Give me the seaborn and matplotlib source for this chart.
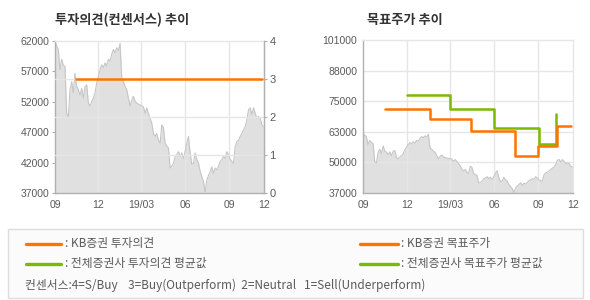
import numpy as np
import pandas as pd
import matplotlib
matplotlib.use('Agg')
import matplotlib.pyplot as plt
import seaborn as sns
from matplotlib.lines import Line2D
from matplotlib.patches import Rectangle

# ---------------- data ----------------
price = [62000, 61200, 60600, 57300, 59000, 58000, 57800, 50100, 49500, 54000,
         55300, 53500, 56700, 54500, 54000, 53100, 54200, 52600, 54500, 54800,
         51800, 51300, 52100, 52600, 53500, 55100, 56200, 57300, 58100, 57600,
         58400, 57900, 59000, 58700, 59800, 60600, 60100, 60900, 60400, 61600,
         55900, 55300, 54500, 54000, 52600, 51300, 52300, 52900, 52100, 51800,
         51600, 51500, 51300, 51200, 50100, 51000, 50100, 49300, 48500, 46800,
         46300, 46800, 45700, 45200, 48200, 47700, 45200, 44700, 44400, 41100,
         41400, 41900, 43000, 43300, 43800, 43000, 43600, 42700, 43800, 45200,
         46300, 43600, 41700, 41900, 43600, 42500, 41900, 40600, 39700, 38900,
         37200, 39100, 39900, 40500, 41300, 40200, 41100, 40800, 41400, 42200,
         42500, 43000, 42700, 43800, 43300, 42500, 42200, 41900, 44600, 45500,
         45700, 46300, 46800, 47400, 47900, 49000, 50700, 51000, 49900, 51000,
         50100, 49300, 49600, 49300, 48200, 47900]
price_start = '2018-09-01'
price_end = '2019-11-12'
axis_end = '2019-11-13'

opinion_dates = ['2018-10-15', '2019-11-08']
opinion_kb = [3, 3]

kb_target_dates = ['2018-10-16', '2019-01-18', '2019-04-14', '2019-07-16',
                   '2019-08-31', '2019-10-11', '2019-11-08']
kb_target = [72000, 68000, 63000, 52500, 56500, 65000, 65000]

avg_target_dates = ['2018-12-01', '2019-03-02', '2019-06-01', '2019-09-03', '2019-10-08']
avg_target = [78000, 72000, 64000, 57500, 70000]

x_tick_dates = ['2018-09-01', '2018-12-01', '2019-03-01', '2019-06-01', '2019-09-01', axis_end]
x_tick_labels = ['09', '12', '19/03', '06', '09', '12']
left_yticks = [37000, 42000, 47000, 52000, 57000, 62000]
opinion_ticks = [0, 1, 2, 3, 4]
right_ytick_labels = ['37000', '50000', '63000', '75000', '88000', '101000']

title_left = '투자의견(컨센서스) 추이'
title_right = '목표주가 추이'
legend_items = [': KB증권 투자의견', ': 전체증권사 투자의견 평균값',
                ': KB증권 목표주가', ': 전체증권사 목표주가 평균값']
consensus_text = '컨센서스:4=S/Buy    3=Buy(Outperform)  2=Neutral   1=Sell(Underperform)'

ORANGE = '#ff7300'
GREEN = '#7cb900'
FILL = '#e0e0e0'
GRID = '#e6e6e6'
SPINE = '#b0b0b0'
TXT = '#5a5a5a'

# ---------------- style ----------------
sns.set_style('white')
plt.rcParams['font.family'] = ['Liberation Sans', 'Noto Sans CJK KR', 'DejaVu Sans']
KFONT = ['Noto Sans CJK KR', 'DejaVu Sans']

W, H = 590, 300
fig = plt.figure(figsize=(W / 100, H / 100), dpi=100)

def fx(x):
    return x / W

def fy(y):
    return 1 - y / H

ax1 = fig.add_axes([fx(55), fy(193), 209 / W, 152 / H])
ax3 = fig.add_axes([fx(363), fy(193), 210 / W, 153 / H])

df = pd.DataFrame({'date': pd.date_range(price_start, price_end, periods=len(price)),
                   'price': price})
xt = [pd.Timestamp(d) for d in x_tick_dates]

for ax, (y0, y1) in ((ax1, (37000, 62000)), (ax3, (37000, 101000))):
    ax.fill_between(df['date'], df['price'], y0, color=FILL, lw=0, zorder=1)
    sns.lineplot(data=df, x='date', y='price', ax=ax, color='#c6c6c6', lw=0.8, zorder=2)
    ax.set_xlim(pd.Timestamp(price_start), pd.Timestamp(axis_end))
    ax.set_ylim(y0, y1)
    ax.set_xticks(xt)
    ax.set_xticklabels(x_tick_labels)
    for d in xt[1:-1]:
        ax.axvline(d, color=GRID, lw=1, zorder=1.5)
    ax.tick_params(axis='both', length=2, width=0.8, color=SPINE, labelsize=7.5,
                   labelcolor=TXT, pad=2)
    ax.tick_params(axis='x', pad=3)
    for s in ('left', 'bottom'):
        ax.spines[s].set_color(SPINE)
        ax.spines[s].set_linewidth(1)
    for s in ('top', 'right'):
        ax.spines[s].set_color(GRID)
        ax.spines[s].set_linewidth(1)

ax1.set_yticks(left_yticks)
ax1.set_yticklabels([str(v) for v in left_yticks])

# twin axis for opinion
ax2 = ax1.twinx()
ax2.set_ylim(0, 4)
ax2.set_yticks(opinion_ticks)
ax2.set_yticklabels([str(v) for v in opinion_ticks])
for v in opinion_ticks[1:-1]:
    ax2.axhline(v, color=GRID, lw=1, zorder=1)
sns.lineplot(x=pd.to_datetime(opinion_dates), y=opinion_kb, ax=ax2, color=ORANGE,
             lw=1.8, zorder=3)
ax2.set_xlim(pd.Timestamp(price_start), pd.Timestamp(axis_end))
ax2.tick_params(axis='y', length=2, width=0.8, color=SPINE, labelsize=8,
                labelcolor=TXT, pad=2)
for s in ('left', 'top', 'bottom'):
    ax2.spines[s].set_visible(False)
ax2.spines['right'].set_color(SPINE)
ax2.spines['right'].set_linewidth(1)

# right chart
rt = np.linspace(37000, 101000, 6)
ax3.set_yticks(rt)
ax3.set_yticklabels(right_ytick_labels)
for v in rt[1:-1]:
    ax3.axhline(v, color=GRID, lw=1, zorder=1.5)
sns.lineplot(x=pd.to_datetime(kb_target_dates), y=kb_target, ax=ax3, color=ORANGE,
             lw=1.8, drawstyle='steps-post', zorder=4)
sns.lineplot(x=pd.to_datetime(avg_target_dates), y=avg_target, ax=ax3, color=GREEN,
             lw=1.8, drawstyle='steps-post', zorder=3)
ax3.set_xlim(pd.Timestamp(price_start), pd.Timestamp(axis_end))

for ax in (ax1, ax2, ax3):
    ax.set_xlabel('')
    ax.set_ylabel('')

# titles
fig.text(fx(55), fy(20), title_left, family=KFONT, fontsize=9.5, fontweight='bold',
         color='#333333', va='center', ha='left')
fig.text(fx(367), fy(20), title_right, family=KFONT, fontsize=9.5, fontweight='bold',
         color='#333333', va='center', ha='left')

# legend box
fig.add_artist(Rectangle((fx(8), fy(298)), 575 / W, 69 / H, transform=fig.transFigure,
                         facecolor='#fbfbfb', edgecolor='#dddddd', lw=1))
rows = [(243.5, ORANGE), (263.5, GREEN)]
for i, (yy, c) in enumerate(rows):
    fig.add_artist(Line2D([fx(26), fx(61)], [fy(yy), fy(yy)], color=c, lw=2.4,
                          transform=fig.transFigure))
    fig.text(fx(65), fy(yy), legend_items[i], family=KFONT, fontsize=8.5, color=TXT,
             va='center', ha='left')
    fig.add_artist(Line2D([fx(360), fx(398)], [fy(yy), fy(yy)], color=c, lw=2.4,
                          transform=fig.transFigure))
    fig.text(fx(401), fy(yy), legend_items[i + 2], family=KFONT, fontsize=8.5, color=TXT,
             va='center', ha='left')
fig.text(fx(25), fy(285), consensus_text, family=KFONT, fontsize=8.5, color=TXT,
         va='center', ha='left')

fig.savefig('out.png', dpi=100, facecolor='white')
